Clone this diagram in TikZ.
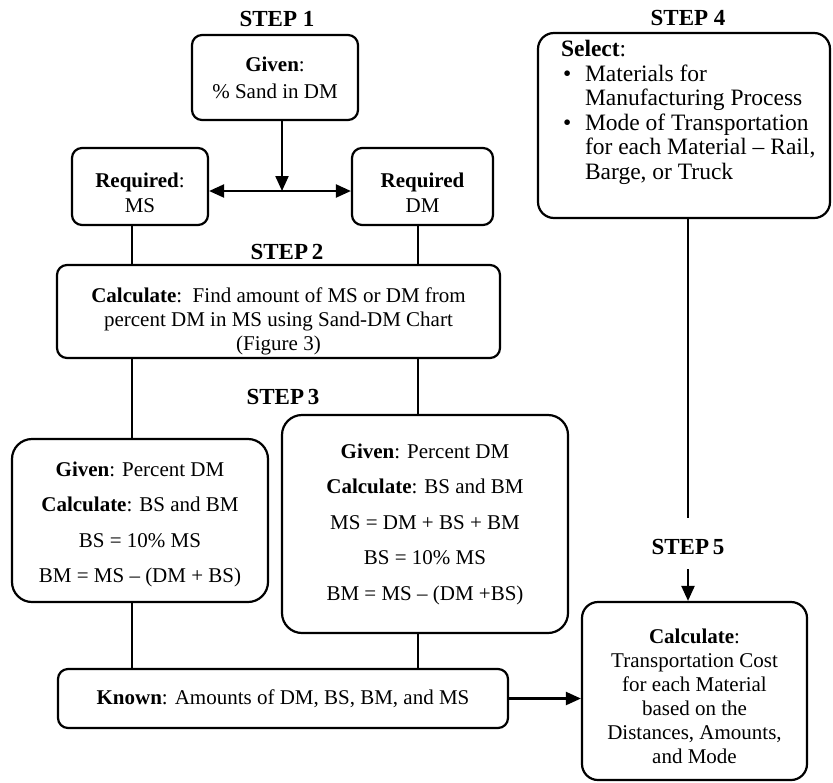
\documentclass[tikz,border=0pt]{standalone}
\usepackage{fontspec}
\setmainfont{Liberation Serif}
\usepackage{xcolor}
\usetikzlibrary{arrows.meta, calc}

\begin{document}
\begin{tikzpicture}[x=0.5pt, y=-0.5pt, >={Triangle[length=7.5pt, width=6.5pt]}, line width=1.1pt]
  \tikzstyle{box} = [rectangle, draw=black, rounded corners=5pt, align=center, inner sep=2pt, font=\fontsize{10.5}{12}\selectfont]
  \tikzstyle{bigbox} = [box, rounded corners=10pt, font=\fontsize{10.5}{17.75}\selectfont]
  \tikzstyle{steplabel} = [inner sep=0pt, font=\fontsize{11.5}{13}\selectfont\bfseries]

  \useasboundingbox (0,0) rectangle (833,782);

  % columns of the connectors
  \coordinate (junc) at (282,191);
  \coordinate (colA) at (132,0);
  \coordinate (colB) at (418,0);
  \coordinate (colC) at (688,0);

  % step 1
  \node [steplabel] (lab1) at (277,19) {STEP 1};
  \node [box, minimum width=83pt, minimum height=42.5pt, font=\fontsize{10.5}{13.5}\selectfont] (given) at (275,77.5) {\textbf{Given}:\\ \% Sand in DM};
  \node [box, minimum width=68pt, minimum height=38.5pt, font=\fontsize{10.5}{12.5}\selectfont] (reqms) at (140,186.5) {\rule{0pt}{13.4pt}\textbf{Required}:\\ MS};
  \node [box, minimum width=70.5pt, minimum height=38.5pt, font=\fontsize{10.5}{12.5}\selectfont] (reqdm) at (422.5,186.5) {\rule{0pt}{13.4pt}\textbf{Required}\\ DM};

  % step 2
  \node [steplabel] (lab2) at (287,252) {STEP\,2};
  \node [box, inner sep=0pt, minimum width=221.5pt, minimum height=46.5pt] (step2) at (278.5,311.5) {\rule{0pt}{17.5pt}\textbf{Calculate}:\ \ Find amount of MS or DM from\\ percent DM in MS using Sand-DM Chart\\ (Figure 3)};

  % step 3
  \node [steplabel] (lab3) at (283,397) {STEP\,3};
  \node [bigbox, minimum width=128pt, minimum height=81.5pt] (s3left) at (140,520.5) {\rule{0pt}{11.4pt}\textbf{Given}: Percent DM\\ \textbf{Calculate}: BS and BM\\ BS = 10\% MS\\ BM = MS -- (DM + BS)};
  \node [bigbox, minimum width=143pt, minimum height=109pt] (s3right) at (425,524) {\textbf{Given}: Percent DM\\ \textbf{Calculate}: BS and BM\\ MS = DM + BS + BM\\ BS = 10\% MS\\ BM = MS -- (DM +BS)};
  \node [box, minimum width=225pt, minimum height=29.5pt] (known) at (283,698.5) {\textbf{Known}: Amounts of DM, BS, BM, and MS};

  % step 4
  \node [steplabel] (lab4) at (688,18) {STEP 4};
  \node [box, rounded corners=8pt, minimum width=146pt, minimum height=92.5pt, inner sep=0pt] (step4) at (684,125.5) {\parbox[c][85pt][t]{132pt}{\fontsize{11.75}{12.25}\selectfont\raggedright\leftskip=4.5pt
    \textbf{Select}:\\
    \hspace*{1pt}\makebox[11pt][l]{•}Materials for\\
    \hspace*{12pt}Manufacturing Process\\
    \hspace*{1pt}\makebox[11pt][l]{•}Mode of Transportation\\
    \hspace*{12pt}for each Material -- Rail,\\
    \hspace*{12pt}Barge, or Truck}};

  % step 5
  \node [steplabel] (lab5) at (688,547) {STEP\,5};
  \node [box, rounded corners=8pt, minimum width=112.5pt, minimum height=89pt] (step5) at (694.5,691) {\rule{0pt}{12.4pt}\textbf{Calculate}:\\ Transportation Cost\\ for each Material\\ based on the\\ Distances, Amounts,\\ and Mode};
  \coordinate (end4) at (688,518);
  \coordinate (start5) at (688,569);

  % connectors
  \draw[->] (given.south -| junc) -- (junc);
  \draw[<->] (reqms.east |- junc) -- (reqdm.west |- junc);
  \draw (reqms.south -| colA) -- (step2.north -| colA);
  \draw (reqdm.south -| colB) -- (step2.north -| colB);
  \draw (step2.south -| colA) -- (s3left.north -| colA);
  \draw (step2.south -| colB) -- (s3right.north -| colB);
  \draw (s3left.south -| colA) -- (known.north -| colA);
  \draw (s3right.south -| colB) -- (known.north -| colB);
  \draw[->] (known.east) -- (known.east -| step5.west);
  \draw (step4.south -| colC) -- (end4);
  \draw[->] (start5) -- (step5.north -| colC);
\end{tikzpicture}
\end{document}
